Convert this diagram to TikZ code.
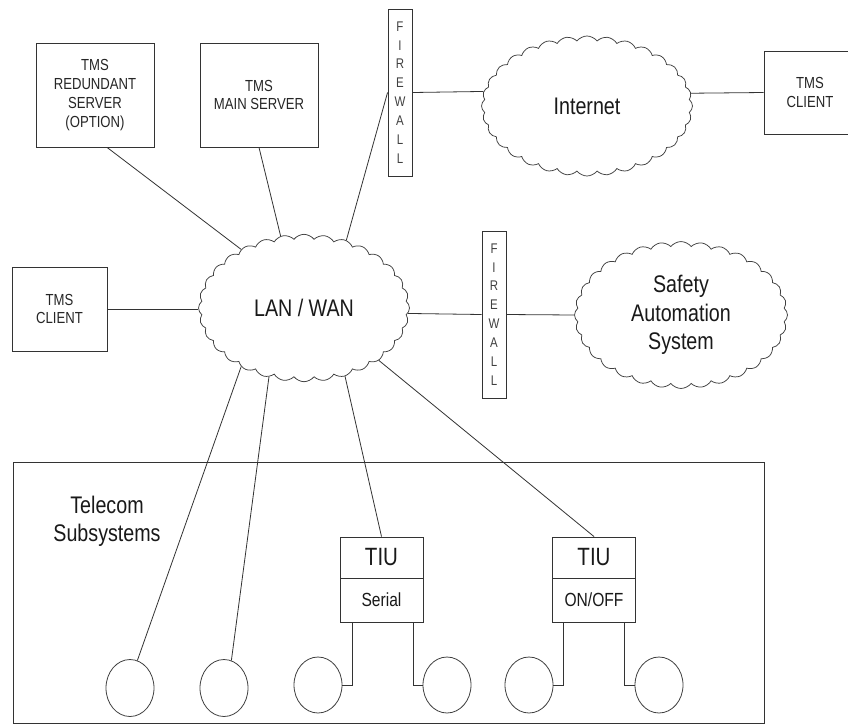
\documentclass[tikz,border=0pt]{standalone}
\usepackage{fontspec}
\setmainfont{Liberation Sans}[FakeStretch=0.82]
\usetikzlibrary{shapes.symbols,shapes.geometric}

\begin{document}
\begin{tikzpicture}[x=1pt,y=-1pt,
  ink/.style={draw=black!80, line width=0.9pt},
  box/.style={ink, rectangle, inner sep=0pt, align=center, text=black!85,
    font=\fontsize{16}{18.8}\selectfont},
  wall/.style={ink, rectangle, inner sep=0pt, minimum width=24pt,
    minimum height=167pt, align=center, text=black!75,
    font=\fontsize{14}{18.9}\selectfont},
  net/.style={draw=black!75, line width=0.75pt, cloud, cloud puffs=32,
    cloud puff arc=105, minimum width=211pt, minimum height=140pt,
    inner sep=0pt, align=center, text=black!90,
    font=\fontsize{24}{28.5}\selectfont},
  tiutop/.style={ink, rectangle, inner sep=0pt, minimum width=83pt,
    minimum height=41pt, text=black!90, font=\fontsize{25}{28}\selectfont},
  tiubot/.style={ink, rectangle, inner sep=0pt, minimum width=83pt,
    minimum height=44pt, text=black!90, font=\fontsize{19}{22}\selectfont},
  dev/.style={draw=black!75, line width=0.8pt, ellipse, minimum width=48pt,
    minimum height=57pt, inner sep=0pt},
  wire/.style={draw=black!80, line width=0.8pt}
]
\useasboundingbox (0,0) rectangle (848,724);
\fill[white] (0,0) rectangle (848,724);

% servers and clients
\node[box, minimum width=118pt, minimum height=104pt] (red) at (95,95)
  {TMS\\REDUNDANT\\SERVER\\(OPTION)};
\node[box, minimum width=118pt, minimum height=104pt] (main) at (259,95)
  {TMS\\MAIN SERVER};
\node[box, minimum width=92pt, minimum height=83pt] (cR) at (810,92.5)
  {TMS\\CLIENT};
\node[box, minimum width=95pt, minimum height=84pt] (cL) at (59.5,309)
  {TMS\\CLIENT};

% firewalls
\node[wall] (fw1) at (400,92.5) {F\\I\\R\\E\\W\\A\\L\\L};
\node[wall] (fw2) at (494,314.5) {F\\I\\R\\E\\W\\A\\L\\L};

% networks
\node[net] (inet) at (587,106) {Internet};
\node[net] (lan) at (304,308) {LAN / WAN};
\node[net, minimum width=213pt] (sas) at (681,315) {Safety\\Automation\\System};

% telecom subsystems area
\node[ink, rectangle, minimum width=751pt, minimum height=261pt, inner sep=0pt]
  (tel) at (388.5,592.5) {};
\node[align=center, text=black!90, font=\fontsize{24}{28}\selectfont]
  (tellbl) at (107,521) {Telecom\\Subsystems};

% interface units
\node[tiutop] (tA) at (381.5,557.5) {TIU};
\node[tiubot] (sA) at (381.5,600) {Serial};
\node[tiutop] (tB) at (594,557.5) {TIU};
\node[tiubot] (sB) at (594,600) {ON/OFF};

% field devices
\node[dev] (c1) at (130,688) {};
\node[dev] (c2) at (224,688) {};
\node[dev, minimum height=56pt] (c3) at (318,685) {};
\node[dev, minimum height=56pt] (c4) at (447,685) {};
\node[dev, minimum height=56pt] (c5) at (529,685) {};
\node[dev, minimum height=56pt] (c6) at (659,685) {};

% links to the LAN / WAN
\draw[wire] (red.-77) -- (lan.137);
\draw[wire] (main.south) -- (lan.108);
\draw[wire] (fw1.west) -- (lan.58);
\draw[wire] (cL.east) -- (cL.east -| lan.west);
\draw[wire] (lan.-3.5) -- (fw2.west);
\draw[wire] (fw2.east) -- (sas.west);
\draw[wire] (lan.-137.5) -- (c1.75);
\draw[wire] (lan.-117.6) -- (c2.75);
\draw[wire] (lan.-59.3) -- (tA.north);
\draw[wire] (lan.-35.9) -- (tB.north);

% internet side
\draw[wire] (fw1.east) -- (inet.172.6);
\draw[wire] (inet.7.4) -- (cR.west);

% interface unit outputs
\draw[wire] ([xshift=13pt]sA.south west) |- (c3.east);
\draw[wire] ([xshift=-10pt]sA.south east) |- (c4.west);
\draw[wire] ([xshift=11pt]sB.south west) |- (c5.east);
\draw[wire] ([xshift=-12pt]sB.south east) |- (c6.west);
\end{tikzpicture}
\end{document}
